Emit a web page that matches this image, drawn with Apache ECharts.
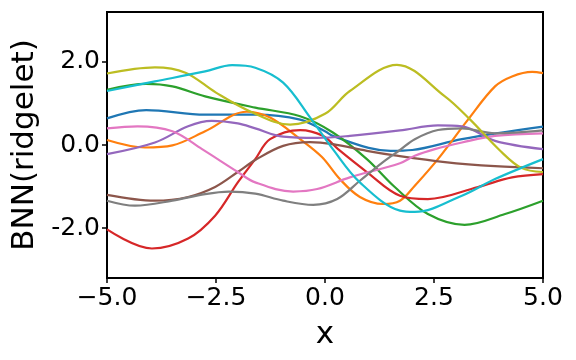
<!DOCTYPE html>
<html><head><meta charset="utf-8">
<script src="https://cdn.jsdelivr.net/npm/echarts@6/dist/echarts.min.js"></script>
<style>html,body{margin:0;padding:0;background:#fff}#c{width:576px;height:360px}</style>
</head><body><div id="c"></div>
<script>
const xTicks = [-5, -2.5, 0, 2.5, 5];
const yTicks = [-2, 0, 2];
const seriesColors = ['#1f77b4','#ff7f0e','#2ca02c','#d62728','#9467bd','#8c564b','#e377c2','#7f7f7f','#bcbd22','#17becf'];

const blue = [[-5,0.64],[-4.1,0.84],[-2.75,0.73],[-1.6,0.73],[-0.57,0.61],[0,0.33],[0.18,0.22],[1,-0.07],[1.5,-0.14],[2,-0.12],[3.14,0.14],[5,0.44]];
const orange = [[-5,0.12],[-4.13,-0.06],[-3.5,-0.01],[-2.75,0.33],[-1.8,0.8],[-1.26,0.66],[-0.57,0.14],[-0.07,-0.29],[0.34,-0.82],[0.8,-1.25],[1.33,-1.42],[1.72,-1.34],[2.06,-0.98],[2.59,-0.34],[3.28,0.61],[3.9,1.41],[4.29,1.65],[4.75,1.76],[5,1.73]];
const green = [[-5,1.33],[-4.1,1.47],[-3.5,1.41],[-2.75,1.17],[-1.6,0.9],[-0.57,0.69],[0.18,0.3],[0.96,-0.34],[1.6,-1.01],[2.36,-1.66],[3.2,-1.92],[4.13,-1.66],[5,-1.34]];
const red = [[-5,-2.03],[-3.97,-2.49],[-3.14,-2.25],[-2.52,-1.7],[-2,-0.9],[-1.6,-0.34],[-1.26,0.14],[-0.57,0.36],[-0.05,0.22],[0.3,-0.1],[0.96,-0.65],[1.72,-1.22],[2.36,-1.3],[3.51,-1.01],[4.29,-0.78],[5,-0.7]];
const purple = [[-5,-0.22],[-3.9,0.06],[-3.14,0.45],[-2.6,0.58],[-2,0.52],[-1.6,0.4],[-0.96,0.2],[-0.18,0.17],[0.57,0.22],[1.72,0.35],[2.59,0.47],[3.14,0.45],[3.9,0.1],[5,-0.1]];
const brown = [[-5,-1.2],[-3.9,-1.34],[-3.14,-1.25],[-2.52,-1.01],[-2,-0.65],[-1.6,-0.36],[-0.96,-0.02],[-0.34,0.07],[0.18,0.02],[0.96,-0.14],[1.6,-0.25],[2.75,-0.41],[3.9,-0.51],[5,-0.56]];
const pink = [[-5,0.4],[-4.3,0.45],[-3.5,0.33],[-2.82,-0.1],[-2,-0.65],[-1.6,-0.9],[-0.73,-1.12],[-0.18,-1.06],[0.57,-0.78],[1.72,-0.44],[2.06,-0.26],[2.52,-0.1],[3.14,0.06],[3.9,0.22],[5,0.28]];
const gray = [[-5,-1.34],[-4.36,-1.46],[-3.5,-1.34],[-2.75,-1.18],[-2.2,-1.12],[-1.6,-1.17],[-0.96,-1.34],[-0.27,-1.44],[0.28,-1.3],[0.8,-0.86],[1.33,-0.41],[1.72,-0.12],[2.06,0.14],[2.59,0.36],[3.14,0.4],[3.9,0.28],[5,0.35]];
const olive = [[-5,1.72],[-3.9,1.87],[-3.2,1.74],[-2.5,1.26],[-1.7,0.8],[-0.8,0.49],[0,0.75],[0.57,1.3],[1.65,1.93],[2.75,1.17],[3.33,0.61],[4,-0.12],[4.5,-0.55],[5,-0.65]];
const cyan = [[-5,1.3],[-3.9,1.53],[-2.75,1.77],[-2.13,1.92],[-1.6,1.86],[-0.96,1.5],[-0.34,0.66],[0.18,-0.1],[0.8,-0.9],[1.72,-1.58],[2.06,-1.61],[3.14,-1.22],[3.9,-0.82],[5,-0.34]];

const allSeries = [blue, orange, green, red, purple, brown, pink, gray, olive, cyan];

const fmt = v => v.toFixed(1);
const chart = echarts.init(document.getElementById('c'), null, {renderer: 'canvas'});
chart.setOption({
  animation: false,
  grid: {left: 107, right: 33, top: 12, bottom: 82, show: true, borderColor: '#000', borderWidth: 2, backgroundColor: 'transparent'},
  xAxis: {
    type: 'value', min: -5, max: 5, interval: 2.5,
    name: 'x', nameLocation: 'middle', nameGap: 41,
    nameTextStyle: {fontFamily: 'DejaVu Sans', fontSize: 31, color: '#000'},
    axisLine: {show: false, onZero: false},
    axisTick: {show: true, inside: false, length: 5, lineStyle: {color: '#000', width: 1.5}},
    axisLabel: {margin: 8, fontFamily: 'DejaVu Sans', fontSize: 25, color: '#000',
      formatter: v => (v < 0 ? '\u2212' + fmt(-v) : fmt(v))},
    splitLine: {show: false}
  },
  yAxis: {
    type: 'value', min: -3.2, max: 3.2,
    name: 'BNN(ridgelet)', nameLocation: 'middle', nameGap: 62,
    nameTextStyle: {fontFamily: 'DejaVu Sans', fontSize: 31, color: '#000'},
    axisLine: {show: false, onZero: false},
    axisTick: {show: true, inside: false, length: 5, customValues: yTicks, lineStyle: {color: '#000', width: 1.5}},
    axisLabel: {margin: 7, fontFamily: 'DejaVu Sans', fontSize: 25, color: '#000', customValues: yTicks,
      formatter: v => fmt(v)},
    splitLine: {show: false}
  },
  series: allSeries.map((d, i) => ({
    type: 'line', data: d, smooth: 0.35, symbol: 'none',
    lineStyle: {color: seriesColors[i], width: 2.2}, z: 2 + i
  }))
});
</script></body></html>
